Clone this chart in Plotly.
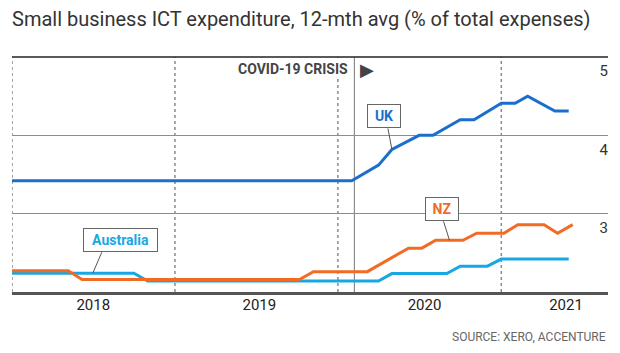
import plotly.graph_objects as go

# ---- data ----
uk_dates = ["2018-01-01", "2020-02-01", "2020-04-01", "2020-05-01", "2020-07-01", "2020-08-01",
            "2020-10-01", "2020-11-01", "2021-01-01", "2021-02-01", "2021-03-01", "2021-05-01",
            "2021-06-01"]
uk_values = [3.42, 3.42, 3.62, 3.82, 4.00, 4.00, 4.20, 4.20, 4.41, 4.41, 4.50, 4.31, 4.31]

nz_dates = ["2018-01-01", "2018-05-07", "2018-06-07", "2019-10-07", "2019-11-07", "2020-03-07",
            "2020-06-07", "2020-07-07", "2020-08-07", "2020-10-07", "2020-11-07", "2021-01-07",
            "2021-02-07", "2021-04-07", "2021-05-07", "2021-06-10"]
nz_values = [2.27, 2.27, 2.16, 2.16, 2.26, 2.26, 2.56, 2.56, 2.66, 2.66, 2.75, 2.75, 2.86, 2.86,
             2.75, 2.86]

au_dates = ["2018-01-01", "2018-10-01", "2018-11-01", "2020-04-01", "2020-05-01", "2020-09-01",
            "2020-10-01", "2020-12-01", "2021-01-01", "2021-06-01"]
au_values = [2.24, 2.24, 2.14, 2.14, 2.235, 2.235, 2.33, 2.33, 2.42, 2.42]

year_ticks = ["2018-07-02", "2019-07-09", "2020-07-13", "2021-05-26"]
year_labels = ["2018", "2019", "2020", "2021"]
year_bounds = ["2018-01-01", "2019-01-01", "2020-01-01", "2021-01-01"]
covid_date = "2020-02-07"
y_ticks = [3, 4, 5]

UK_C = "#1a6fcc"
NZ_C = "#f26b24"
AU_C = "#17a8e3"
FONT = "Roboto"

fig = go.Figure()
fig.add_trace(go.Scatter(x=uk_dates, y=uk_values, mode="lines", line=dict(color=UK_C, width=3),
                         hoverinfo="skip", name="UK"))
fig.add_trace(go.Scatter(x=au_dates, y=au_values, mode="lines", line=dict(color=AU_C, width=3),
                         hoverinfo="skip", name="Australia"))
fig.add_trace(go.Scatter(x=nz_dates, y=nz_values, mode="lines", line=dict(color=NZ_C, width=3),
                         hoverinfo="skip", name="NZ"))

shapes = []
for d in year_bounds:
    shapes.append(dict(type="line", xref="x", yref="paper", x0=d, x1=d, y0=0, y1=1,
                       line=dict(color="#8a8a8a", width=1.5, dash="dot"), layer="below"))
shapes.append(dict(type="line", xref="x", yref="paper", x0=covid_date, x1=covid_date, y0=0, y1=1,
                   line=dict(color="#8a8a8a", width=1.2), layer="below"))
shapes.append(dict(type="line", xref="paper", yref="paper", x0=0, x1=1, y0=1, y1=1,
                   line=dict(color="#222222", width=1.6)))

annotations = [
    dict(text="COVID-19 CRISIS", x=covid_date, xref="x", y=0.948, yref="paper", xanchor="right",
         yanchor="middle", xshift=-4, showarrow=False, bgcolor="white",
         font=dict(family=FONT, size=14, color="#444444", weight="bold")),
    dict(text="▶", x=covid_date, xref="x", y=0.948, yref="paper", xanchor="left",
         yanchor="middle", xshift=4, showarrow=False,
         font=dict(family="DejaVu Sans", size=18, color="#444444")),
    dict(text="SOURCE: XERO, ACCENTURE", x=1, xref="paper", y=-0.193, yref="paper",
         xanchor="right", yanchor="middle", showarrow=False,
         font=dict(family=FONT, size=12, color="#666666")),
]

callouts = [
    # text, color, anchor x, anchor y, box shift x, box shift y, pointer end dx, dy, width
    ("UK", UK_C, "2020-05-01", 3.82, -8, 33, -4, 21, 28),
    ("NZ", NZ_C, "2020-09-07", 2.66, -8, 31, -6, 19, 28),
    ("Australia", AU_C, "2018-07-01", 2.24, 28, 33, 9, 21, 69),
]
for txt, col, ax_, ay_, sx, sy, dx, dy, w in callouts:
    shapes.append(dict(type="line", xref="x", yref="y", xsizemode="pixel", ysizemode="pixel",
                       xanchor=ax_, yanchor=ay_, x0=0, y0=0, x1=dx, y1=dy,
                       line=dict(color="#555555", width=1)))
    annotations.append(dict(text=txt, x=ax_, y=ay_, xref="x", yref="y", xshift=sx, yshift=sy,
                            showarrow=False, bgcolor="white", bordercolor="#666666",
                            borderwidth=1, borderpad=2, width=w, height=18,
                            xanchor="center", yanchor="middle",
                            font=dict(family=FONT, size=14, color=col, weight="bold")))

fig.update_layout(
    width=620, height=353,
    margin=dict(l=12, r=12, t=57, b=61),
    paper_bgcolor="white", plot_bgcolor="white",
    showlegend=False,
    title=dict(text="Small business ICT expenditure, 12-mth avg (% of total expenses)",
               x=12 / 620, xref="container", xanchor="left", y=1 - 19 / 353, yanchor="middle",
               font=dict(family=FONT, size=20, color="#333333")),
    xaxis=dict(range=["2018-01-01", "2021-08-28"], showgrid=False, zeroline=False,
               showline=True, linecolor="#555555", linewidth=2.5,
               tickvals=year_ticks, ticktext=year_labels, ticks="",
               ticklabelstandoff=-3,
               tickfont=dict(family=FONT, size=15, color="#222222")),
    yaxis=dict(range=[2, 5], tickvals=y_ticks, showgrid=True, gridcolor="#8c8c8c", gridwidth=1.2,
               zeroline=False, side="right", ticklabelposition="inside", ticks="",
               ticklabelshift=14, ticklabelstandoff=-3,
               tickfont=dict(family=FONT, size=15, color="#333333")),
    shapes=shapes,
    annotations=annotations,
)

fig.write_html("out.html")
